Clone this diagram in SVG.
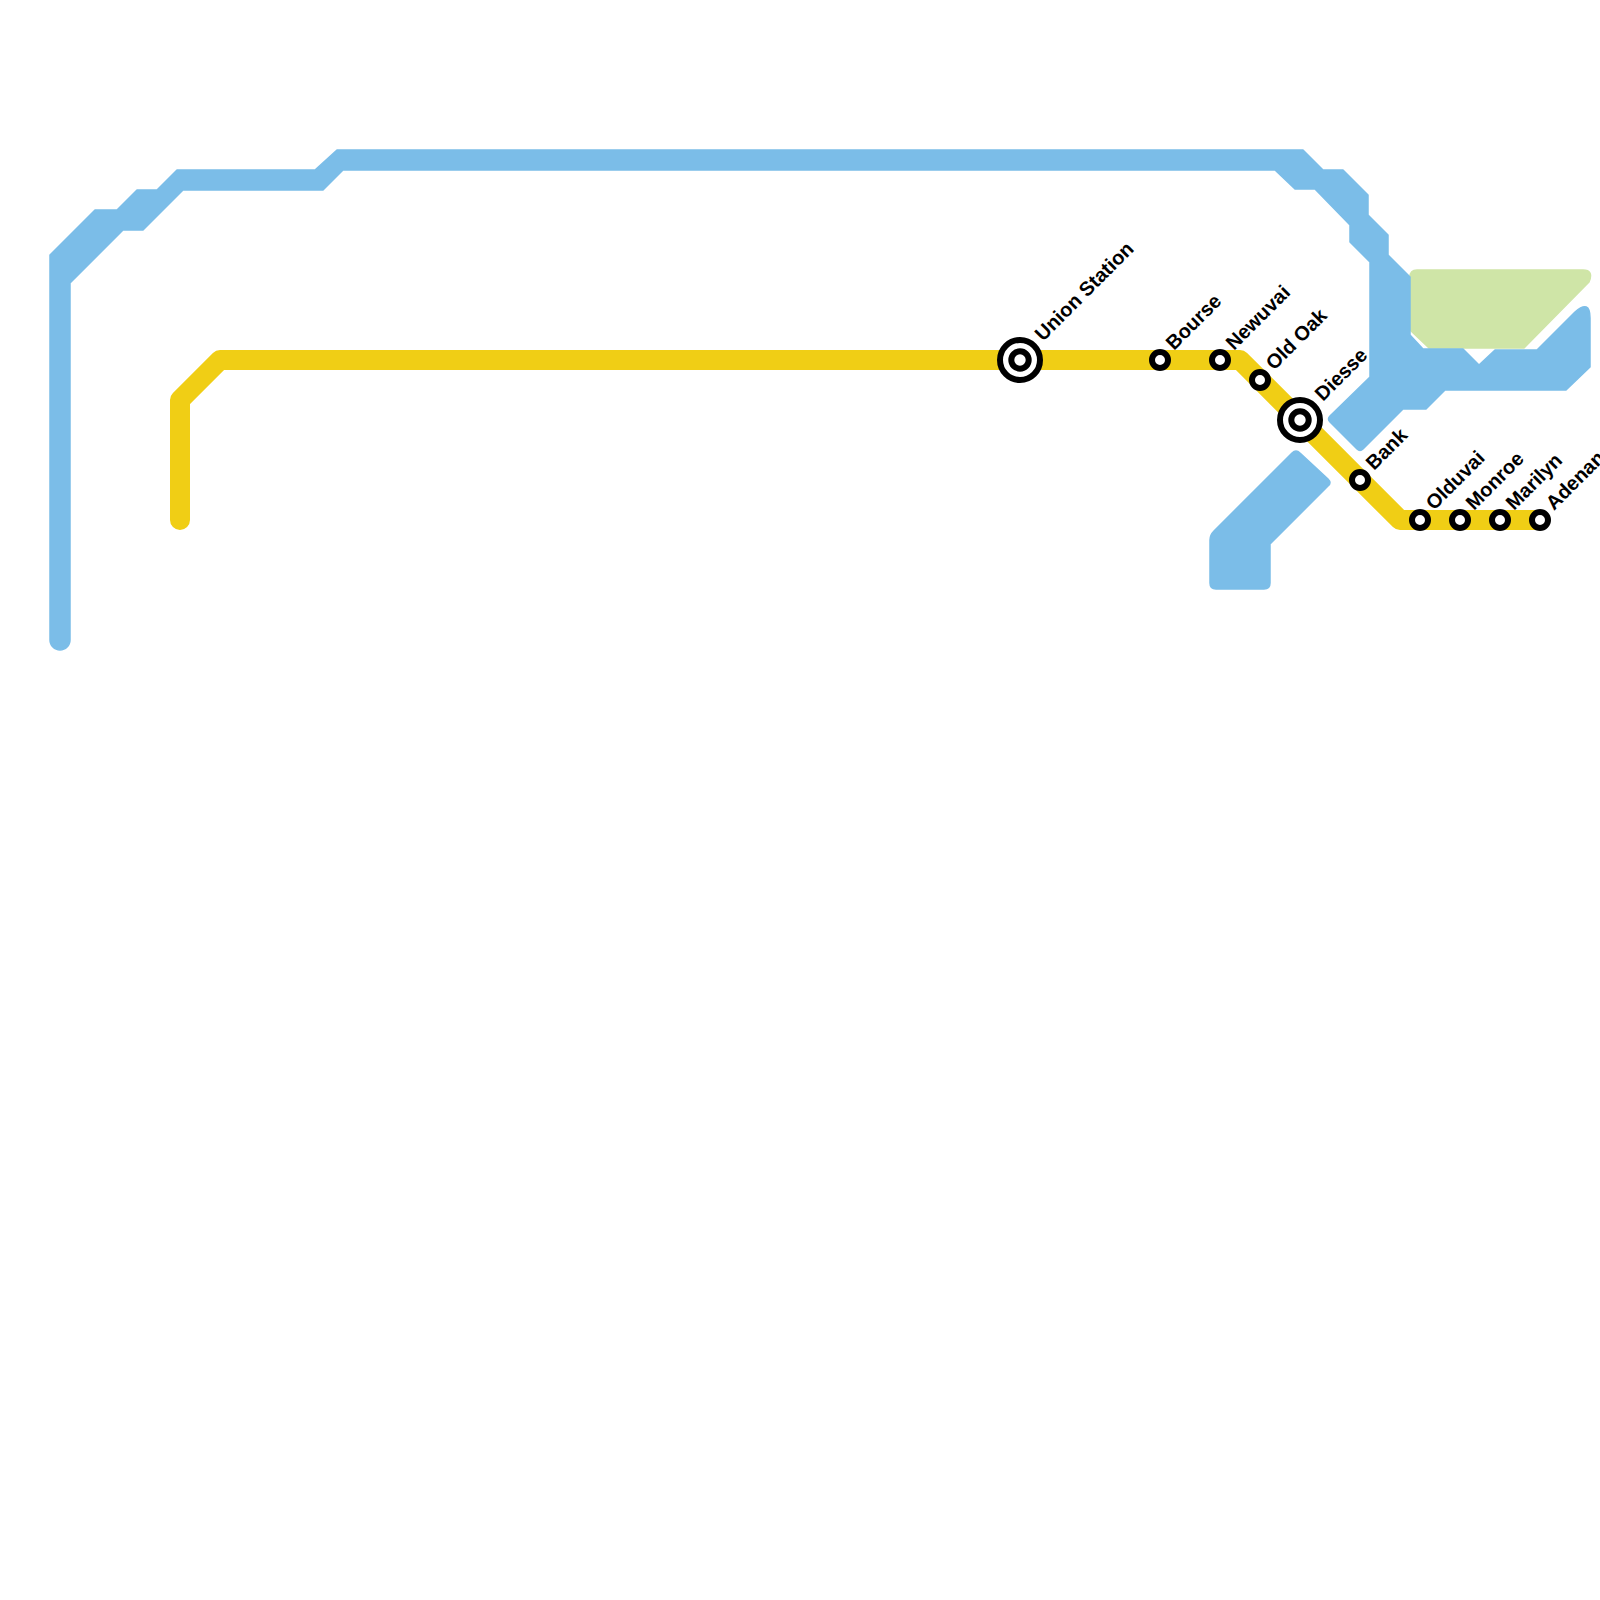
<svg xmlns="http://www.w3.org/2000/svg" width="1600" height="1600" viewBox="0 0 1600 1600">
  <style>
    .blue { fill: #7BBDE8; stroke: #7BBDE8; stroke-width: 1.5; stroke-linejoin: round; }
    .green { fill: #CFE5A7; stroke: #CFE5A7; stroke-width: 1.5; stroke-linejoin: round; }
    .yellow { fill: none; stroke: #F0CE15; stroke-width: 20; stroke-linecap: round; stroke-linejoin: round; }
    .st { fill: #FFFFFF; stroke: #000000; stroke-width: 6; }
    .lbl { font-family: "Liberation Sans", Arial, sans-serif; font-weight: bold; font-size: 20px; fill: #000000; }
  </style>
  <rect width="1600" height="1600" fill="#FFFFFF"/>
  <g id="connectors">
    <path id="green-area" class="green" d="M1410,277 Q1410,270 1417,270 L1583,270 Q1594,270 1589,282 L1524,348 L1429,348 L1410,330 Z"/>
    <path id="blue-line" class="blue" d="M50,640 L50,255 L95,210 L117,210 L137,190 L157,190 L177,170 L315,170 L337,150 L1303,150 L1323,170 L1343,170 L1368,195 L1368,215 L1388,235 L1388,255 L1410,277 L1410,335 L1423,349 L1463,349 L1479,365 L1495,350 L1537,350 L1575,312 Q1590,299 1590,318 L1590,367 L1566,390 L1445,390 L1426,409 L1403,409 L1363,449 Q1360,452 1357,449 L1330,422 Q1327,419 1330,416 L1370,377 L1370,262 L1350,242 L1350,225 L1315,189 L1295,189 L1275,170 L343,170 L323,190 L183,190 L143,230 L123,230 L70,283 L70,640 A10,10 0 0 1 50,640 Z"/>
    <path id="blue-branch" class="blue" d="M1210,540 Q1210,535 1214,531 L1292,453 Q1296,449 1300,453 L1328,479 Q1332,483 1328,486 L1270,544 L1270,583 Q1270,589 1264,589 L1216,589 Q1210,589 1210,583 Z"/>
    <path id="yellow-line" class="yellow" d="M180,520 L180,400 L220,360 L1240,360 L1400,520 L1540,520"/>
  </g>
  <g id="union-station">
    <circle class="st" cx="1020" cy="360" r="20"/>
    <circle class="st" cx="1020" cy="360" r="8.7"/>
    <text class="lbl" x="1043" y="342" transform="rotate(-45 1043 342)">Union Station</text>
  </g>
  <g id="bourse">
    <circle class="st" cx="1160" cy="360" r="8"/>
    <text class="lbl" x="1174" y="351" transform="rotate(-45 1174 351)">Bourse</text>
  </g>
  <g id="newuvai">
    <circle class="st" cx="1220" cy="360" r="8"/>
    <text class="lbl" x="1234" y="351" transform="rotate(-45 1234 351)">Newuvai</text>
  </g>
  <g id="old-oak">
    <circle class="st" cx="1260" cy="380" r="8"/>
    <text class="lbl" x="1274" y="371" transform="rotate(-45 1274 371)">Old Oak</text>
  </g>
  <g id="diesse">
    <circle class="st" cx="1300" cy="420" r="20"/>
    <circle class="st" cx="1300" cy="420" r="8.7"/>
    <text class="lbl" x="1323" y="402" transform="rotate(-45 1323 402)">Diesse</text>
  </g>
  <g id="bank">
    <circle class="st" cx="1360" cy="480" r="8"/>
    <text class="lbl" x="1374" y="471" transform="rotate(-45 1374 471)">Bank</text>
  </g>
  <g id="olduvai">
    <circle class="st" cx="1420" cy="520" r="8"/>
    <text class="lbl" x="1434" y="511" transform="rotate(-45 1434 511)">Olduvai</text>
  </g>
  <g id="monroe">
    <circle class="st" cx="1460" cy="520" r="8"/>
    <text class="lbl" x="1474" y="511" transform="rotate(-45 1474 511)">Monroe</text>
  </g>
  <g id="marilyn">
    <circle class="st" cx="1500" cy="520" r="8"/>
    <text class="lbl" x="1514" y="511" transform="rotate(-45 1514 511)">Marilyn</text>
  </g>
  <g id="adenan">
    <circle class="st" cx="1540" cy="520" r="8"/>
    <text class="lbl" x="1554" y="511" transform="rotate(-45 1554 511)">Adenan</text>
  </g>
</svg>
